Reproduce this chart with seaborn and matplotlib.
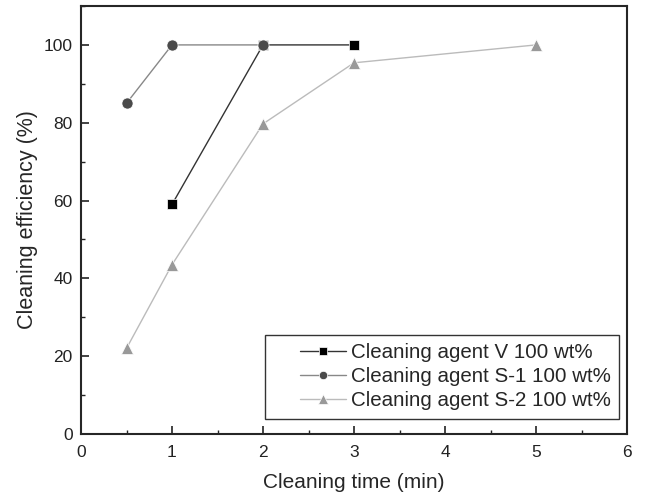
import matplotlib
matplotlib.use("Agg")
import matplotlib.pyplot as plt
import seaborn as sns
import pandas as pd
from matplotlib.ticker import MultipleLocator
from matplotlib.legend_handler import HandlerLine2D

sns.set_style("ticks")
plt.rcParams['font.family'] = ['Liberation Sans', 'DejaVu Sans']

v_time = [1, 2, 3]
v_eff = [59, 100, 100]
s1_time = [0.5, 1, 2]
s1_eff = [85, 100, 100]
s2_time = [0.5, 1, 2, 3, 5]
s2_eff = [22, 43.5, 79.7, 95.4, 100]

labels = ["Cleaning agent V 100 wt%", "Cleaning agent S-1 100 wt%", "Cleaning agent S-2 100 wt%"]

df = pd.concat([
    pd.DataFrame({"time": v_time, "eff": v_eff, "agent": labels[0]}),
    pd.DataFrame({"time": s1_time, "eff": s1_eff, "agent": labels[1]}),
    pd.DataFrame({"time": s2_time, "eff": s2_eff, "agent": labels[2]}),
])


class ShiftedHandler(HandlerLine2D):
    def create_artists(self, legend, orig_handle, xdescent, ydescent, width, height, fontsize, trans):
        off = width * 0.36
        return super().create_artists(legend, orig_handle, xdescent - off, ydescent,
                                      width - off, height, fontsize, trans)


fig = plt.figure(figsize=(6.52, 4.99), dpi=100)
ax = fig.add_axes([81/652, 1-434/499, (627-81)/652, (434-6)/499])

styles = [
    dict(color="#000000", lc="#333333", marker="s", ms=7),
    dict(color="#4a4a4a", lc="#888888", marker="o", ms=8),
    dict(color="#999999", lc="#bbbbbb", marker="^", ms=9),
]
for lab, st in zip(labels, styles):
    sub = df[df["agent"] == lab]
    sns.lineplot(data=sub, x="time", y="eff", ax=ax, color=st["lc"], lw=1,
                 marker=st["marker"], markersize=st["ms"], markerfacecolor=st["color"],
                 markeredgecolor="white", markeredgewidth=0.5, label=lab)

ax.set_xlim(0, 6)
ax.set_ylim(0, 110)
ax.xaxis.set_major_locator(MultipleLocator(1))
ax.xaxis.set_minor_locator(MultipleLocator(0.5))
ax.yaxis.set_major_locator(MultipleLocator(20))
ax.yaxis.set_minor_locator(MultipleLocator(10))
ax.tick_params(which="both", direction="in", top=False, right=False, labelsize=12.5, colors="#222222")
ax.tick_params(axis="x", pad=8)
ax.tick_params(axis="y", pad=6)
ax.tick_params(which="major", length=6, width=1.2)
ax.tick_params(which="minor", length=3, width=1)
for s in ax.spines.values():
    s.set_linewidth(1.5)
ax.set_xlabel("Cleaning time (min)", fontsize=15, labelpad=9)
ax.set_ylabel("Cleaning efficiency (%)", fontsize=15.5, labelpad=4)

handles, labs = ax.get_legend_handles_labels()
leg = ax.legend(handles, labs, loc="lower right", bbox_to_anchor=(0.985, 0.036), fontsize=14.8,
                frameon=True, fancybox=False, edgecolor="#333333", framealpha=1,
                handlelength=3.5, borderpad=0.4, labelspacing=0.25, handletextpad=0.25,
                markerscale=0.75, borderaxespad=0,
                handler_map={h: ShiftedHandler() for h in handles})
leg.get_frame().set_linewidth(1)

fig.savefig("out.png", dpi=100)
